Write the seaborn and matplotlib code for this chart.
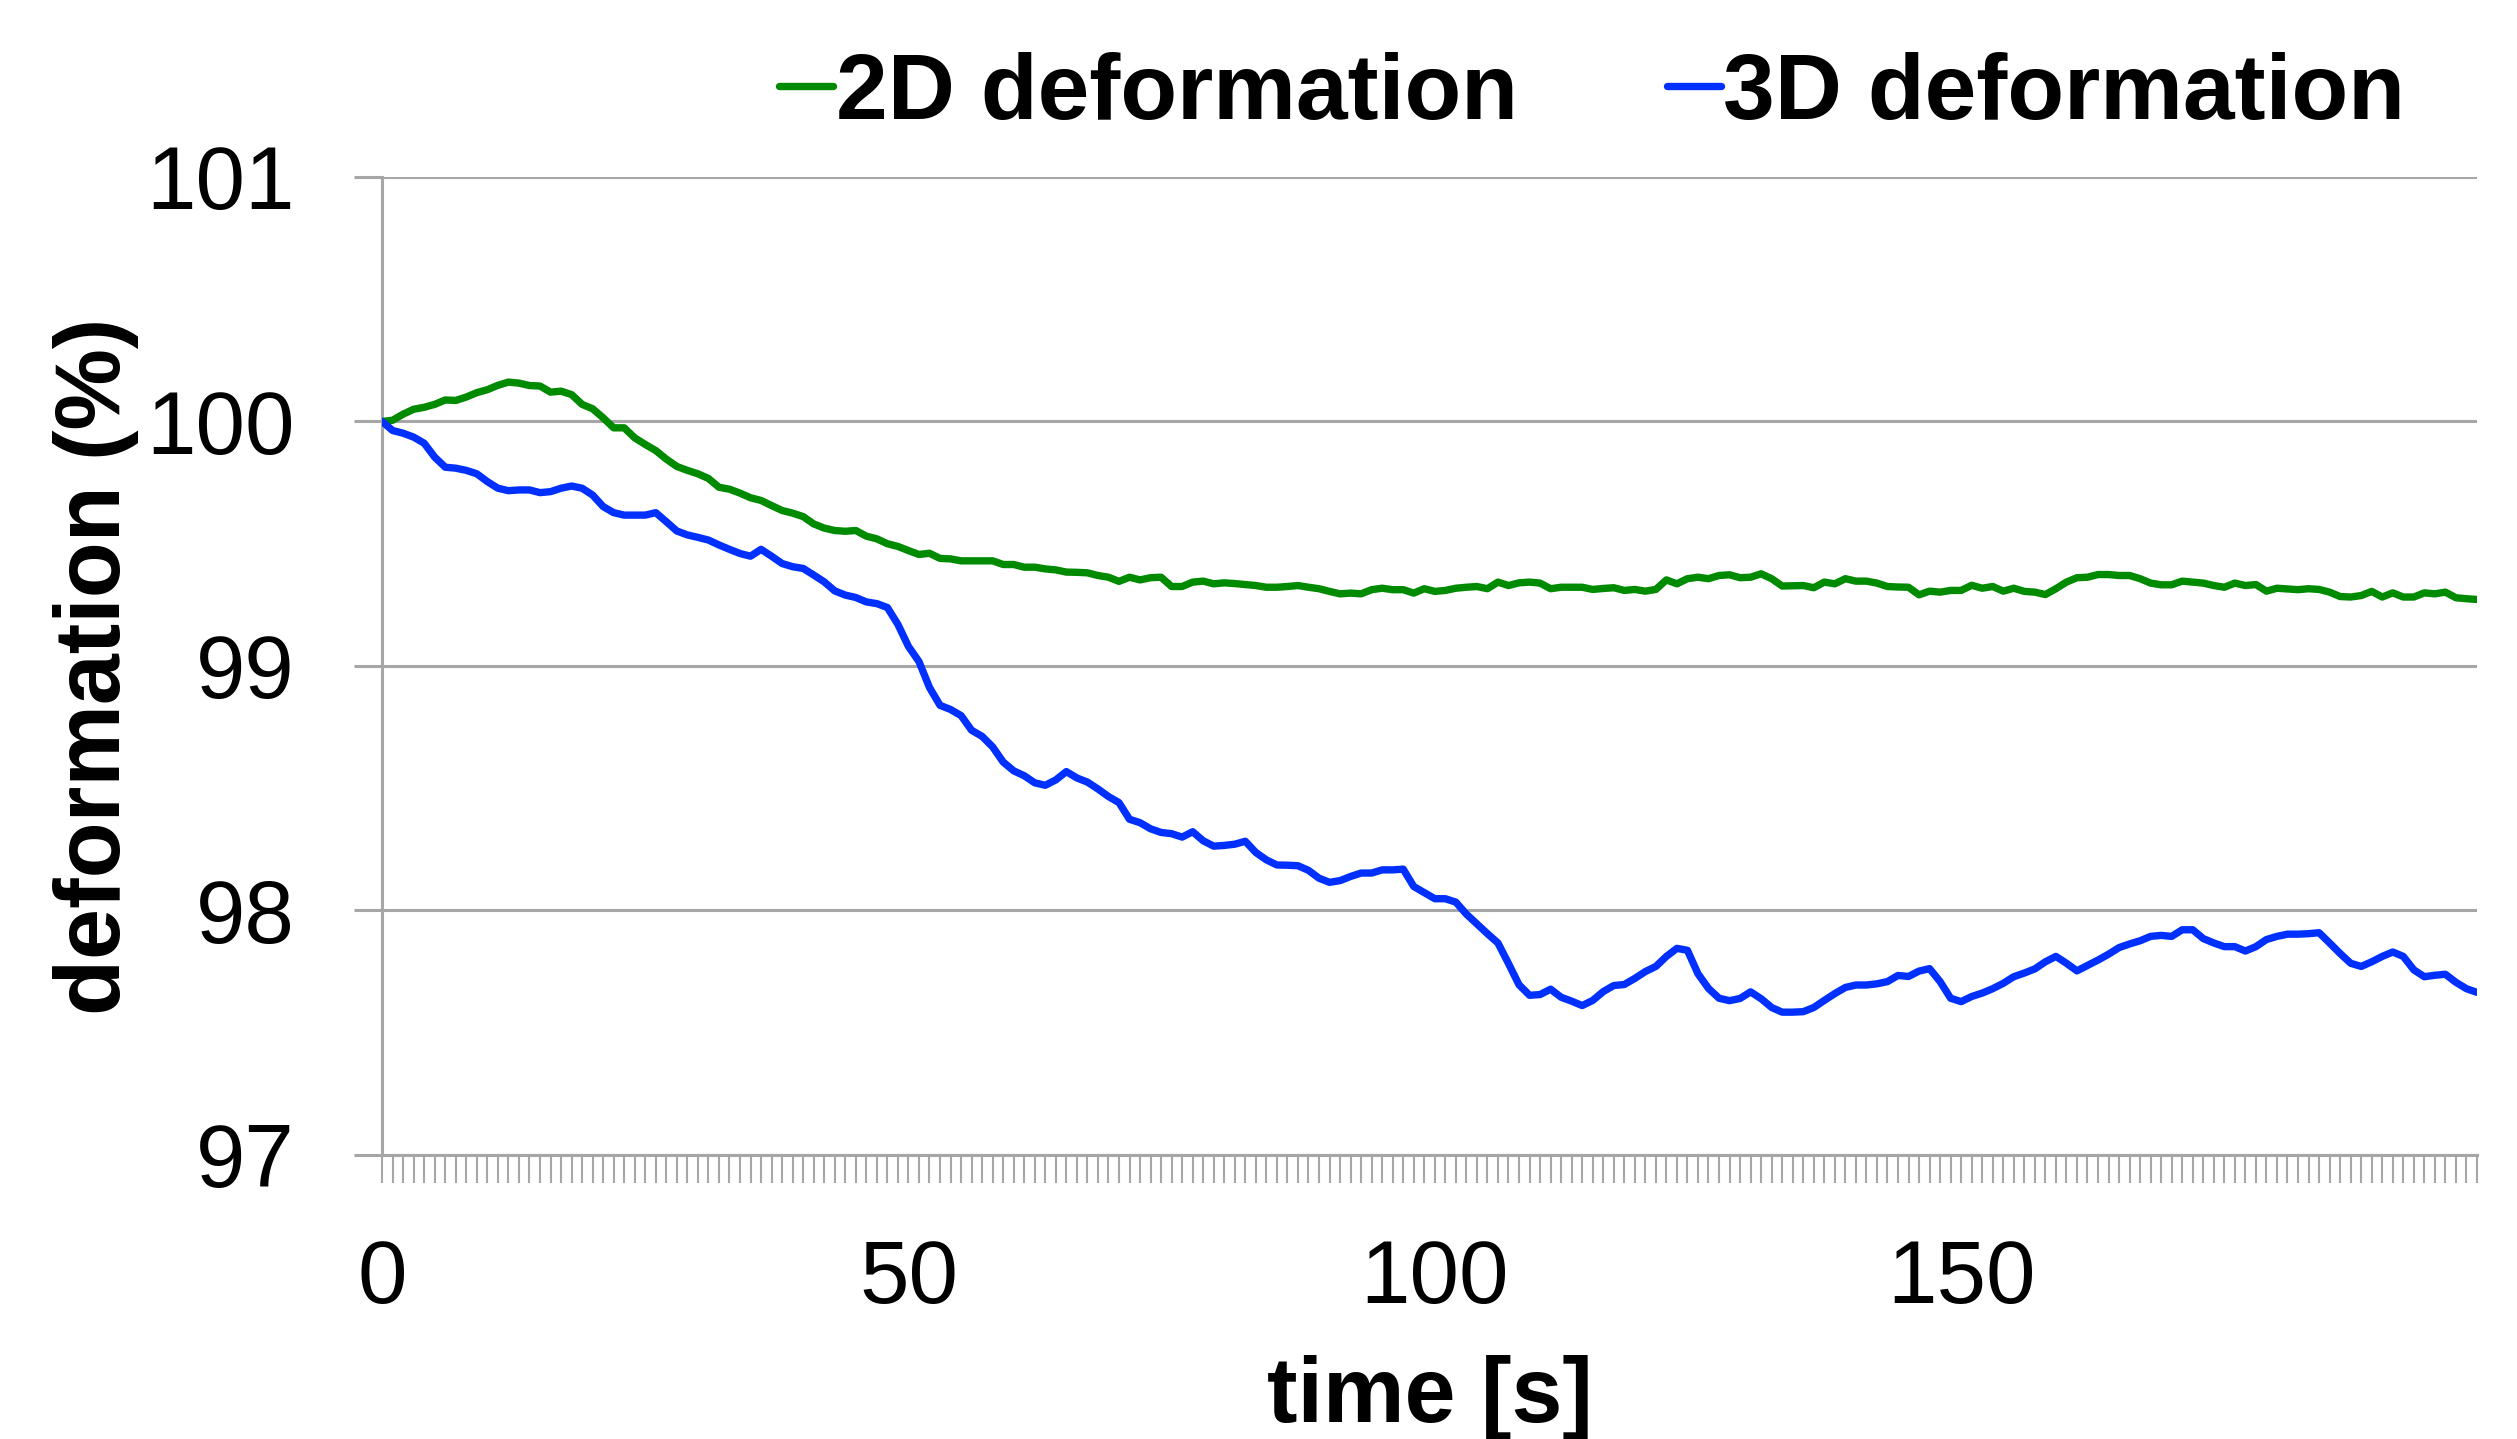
import numpy as np
import pandas as pd
import matplotlib
matplotlib.use("Agg")
import matplotlib.pyplot as plt
from matplotlib.ticker import MultipleLocator, FixedLocator
import seaborn as sns

# temps en secondes, un point par seconde
time_s = list(range(200))

def_2d = [
    100.000, 100.005, 100.030, 100.050, 100.058, 100.070, 100.088, 100.086, 100.100, 100.118,
    100.130, 100.148, 100.161, 100.157, 100.147, 100.145, 100.120, 100.124, 100.110, 100.070,
    100.052, 100.015, 99.974, 99.974, 99.933, 99.906, 99.881, 99.846, 99.816, 99.800,
    99.786, 99.767, 99.731, 99.723, 99.707, 99.688, 99.677, 99.656, 99.636, 99.625,
    99.611, 99.581, 99.564, 99.554, 99.551, 99.554, 99.531, 99.520, 99.500, 99.489,
    99.472, 99.456, 99.461, 99.440, 99.438, 99.430, 99.430, 99.430, 99.430, 99.415,
    99.415, 99.404, 99.404, 99.397, 99.393, 99.384, 99.383, 99.381, 99.370, 99.363,
    99.346, 99.363, 99.352, 99.361, 99.363, 99.325, 99.325, 99.343, 99.347, 99.336,
    99.340, 99.337, 99.333, 99.329, 99.322, 99.322, 99.325, 99.329, 99.322, 99.316,
    99.305, 99.295, 99.298, 99.295, 99.312, 99.318, 99.312, 99.312, 99.298, 99.316,
    99.305, 99.309, 99.318, 99.322, 99.325, 99.316, 99.343, 99.329, 99.340, 99.343,
    99.339, 99.316, 99.322, 99.322, 99.322, 99.313, 99.317, 99.320, 99.309, 99.313,
    99.306, 99.313, 99.352, 99.336, 99.357, 99.363, 99.357, 99.370, 99.373, 99.361,
    99.363, 99.377, 99.357, 99.327, 99.328, 99.329, 99.320, 99.343, 99.336, 99.357,
    99.347, 99.347, 99.339, 99.325, 99.323, 99.322, 99.291, 99.306, 99.302, 99.309,
    99.309, 99.330, 99.318, 99.325, 99.306, 99.318, 99.305, 99.302, 99.292, 99.316,
    99.343, 99.361, 99.363, 99.374, 99.374, 99.370, 99.370, 99.357, 99.339, 99.332,
    99.332, 99.347, 99.343, 99.339, 99.329, 99.322, 99.339, 99.329, 99.333, 99.306,
    99.318, 99.315, 99.312, 99.316, 99.313, 99.302, 99.284, 99.282, 99.288, 99.305,
    99.282, 99.299, 99.282, 99.282, 99.299, 99.295, 99.302, 99.279, 99.275, 99.272,
]

def_3d = [
    100.000, 99.963, 99.952, 99.936, 99.911, 99.854, 99.813, 99.809, 99.800, 99.786,
    99.754, 99.727, 99.717, 99.720, 99.720, 99.709, 99.713, 99.727, 99.736, 99.727,
    99.699, 99.652, 99.627, 99.617, 99.617, 99.617, 99.627, 99.590, 99.552, 99.536,
    99.526, 99.515, 99.495, 99.477, 99.460, 99.449, 99.477, 99.449, 99.419, 99.406,
    99.399, 99.372, 99.344, 99.307, 99.290, 99.280, 99.262, 99.255, 99.239, 99.170,
    99.080, 99.018, 98.912, 98.839, 98.822, 98.797, 98.737, 98.712, 98.669, 98.607,
    98.571, 98.551, 98.522, 98.512, 98.534, 98.568, 98.542, 98.525, 98.497, 98.466,
    98.441, 98.373, 98.359, 98.334, 98.319, 98.314, 98.300, 98.322, 98.285, 98.263,
    98.266, 98.271, 98.283, 98.237, 98.207, 98.186, 98.185, 98.183, 98.164, 98.132,
    98.115, 98.122, 98.139, 98.153, 98.153, 98.166, 98.166, 98.169, 98.098, 98.073,
    98.048, 98.048, 98.034, 97.985, 97.945, 97.905, 97.867, 97.783, 97.696, 97.653,
    97.656, 97.678, 97.645, 97.629, 97.611, 97.632, 97.668, 97.693, 97.697, 97.722,
    97.750, 97.771, 97.812, 97.845, 97.837, 97.741, 97.681, 97.641, 97.631, 97.640,
    97.667, 97.639, 97.603, 97.584, 97.584, 97.586, 97.603, 97.632, 97.660, 97.685,
    97.695, 97.695, 97.700, 97.709, 97.734, 97.730, 97.752, 97.762, 97.709, 97.641,
    97.627, 97.648, 97.662, 97.680, 97.702, 97.729, 97.744, 97.761, 97.790, 97.812,
    97.784, 97.753, 97.775, 97.797, 97.821, 97.848, 97.863, 97.876, 97.894, 97.898,
    97.894, 97.921, 97.921, 97.885, 97.867, 97.852, 97.852, 97.834, 97.852, 97.881,
    97.894, 97.903, 97.903, 97.905, 97.909, 97.867, 97.824, 97.784, 97.771, 97.790,
    97.812, 97.830, 97.812, 97.757, 97.729, 97.735, 97.739, 97.706, 97.680, 97.665,
]

series_names = ['2D deformation', '3D deformation']
series_colors = ['#008a00', '#0030ff']
y_ticks = [97, 98, 99, 100, 101]
x_ticks = [0, 50, 100, 150]

df = pd.DataFrame({
    'time': time_s * 2,
    'deformation': def_2d + def_3d,
    'serie': [series_names[0]] * len(time_s) + [series_names[1]] * len(time_s),
})

sns.set_style('white')
plt.rcParams['font.family'] = ['Liberation Sans', 'DejaVu Sans']
plt.rcParams['text.color'] = 'black'
plt.rcParams['axes.labelcolor'] = 'black'
plt.rcParams['xtick.labelcolor'] = 'black'
plt.rcParams['ytick.labelcolor'] = 'black'

grey = '#a6a6a6'
fig = plt.figure(figsize=(25.17, 14.39), dpi=100)
ax = fig.add_axes([0.1518, 0.1974, 0.9841 - 0.1518, 0.877 - 0.1974])

sns.lineplot(data=df, x='time', y='deformation', hue='serie',
             palette=dict(zip(series_names, series_colors)),
             linewidth=5.3, ax=ax, zorder=3)

ax.set_xlim(0, 199)
ax.set_ylim(97, 101)
ax.yaxis.set_major_locator(FixedLocator(y_ticks))
ax.xaxis.set_major_locator(FixedLocator(x_ticks))
ax.xaxis.set_minor_locator(MultipleLocator(1))

ax.grid(axis='y', color=grey, linewidth=2.2, zorder=0)
ax.grid(axis='x', visible=False)
for side in ['top', 'right']:
    ax.spines[side].set_visible(False)
for side in ['left', 'bottom']:
    ax.spines[side].set_color(grey)
    ax.spines[side].set_linewidth(2.2)

ax.tick_params(axis='x', which='both', direction='out', length=20, width=1.5,
               color=grey, bottom=True, labelsize=64, pad=40, labelcolor='black')
ax.tick_params(axis='y', which='major', direction='out', length=20, width=2.2,
               color=grey, left=True, labelsize=64, pad=43, labelcolor='black')

ax.set_xlabel('time [s]', fontsize=66, fontweight='bold', color='black')
ax.set_ylabel('deformation (%)', fontsize=66, fontweight='bold', color='black')
ax.xaxis.set_label_coords(0.5, -0.205)
ax.yaxis.set_label_coords(-0.116, 0.5)

handles, labels = ax.get_legend_handles_labels()
leg = ax.legend(handles, labels, ncol=2, frameon=False, loc='center',
                bbox_to_anchor=(0.6326, 0.934), bbox_transform=fig.transFigure,
                prop={'size': 67, 'weight': 'bold'}, handlelength=0.58,
                handletextpad=0.03, columnspacing=1.6, borderpad=0)
for txt in leg.get_texts():
    txt.set_color('black')

fig.savefig('out.png', dpi=100)
